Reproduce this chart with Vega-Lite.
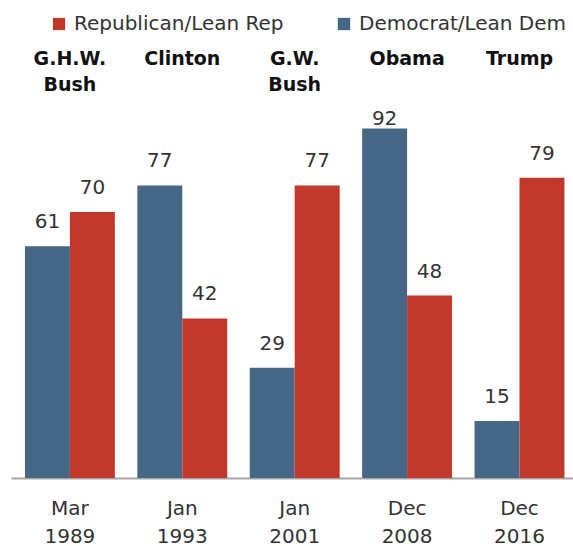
{
  "$schema": "https://vega.github.io/schema/vega-lite/v6.json",
  "autosize": {"type": "none"},
  "padding": {"left": 11, "top": 98, "right": 0, "bottom": 68},
  "width": 562,
  "height": 380,
  "background": "white",
  "config": {"view": {"stroke": null}, "font": "DejaVu Sans"},
  "data": {"values": [
    {"key": "G.H.W. Bush|Mar 1989", "party": "Democrat/Lean Dem", "value": 61},
    {"key": "G.H.W. Bush|Mar 1989", "party": "Republican/Lean Rep", "value": 70},
    {"key": "Clinton|Jan 1993", "party": "Democrat/Lean Dem", "value": 77},
    {"key": "Clinton|Jan 1993", "party": "Republican/Lean Rep", "value": 42},
    {"key": "G.W. Bush|Jan 2001", "party": "Democrat/Lean Dem", "value": 29},
    {"key": "G.W. Bush|Jan 2001", "party": "Republican/Lean Rep", "value": 77},
    {"key": "Obama|Dec 2008", "party": "Democrat/Lean Dem", "value": 92},
    {"key": "Obama|Dec 2008", "party": "Republican/Lean Rep", "value": 48},
    {"key": "Trump|Dec 2016", "party": "Democrat/Lean Dem", "value": 15},
    {"key": "Trump|Dec 2016", "party": "Republican/Lean Rep", "value": 79}
  ]},
  "resolve": {"axis": {"x": "independent"}},
  "layer": [
    {
      "mark": {"type": "bar"},
      "encoding": {
        "x": {
          "field": "key", "type": "nominal", "sort": null,
          "scale": {"paddingInner": 0.2, "paddingOuter": 0.1, "align": 0.62},
          "axis": {
            "orient": "bottom", "title": null, "ticks": false,
            "domain": true, "domainColor": "#a6a6a6", "domainWidth": 2,
            "labelAngle": 0, "labelFontSize": 20, "labelColor": "#333333",
            "labelBaseline": "top", "labelPadding": 20, "labelLineHeight": 28,
            "labelExpr": "split(split(datum.label, '|')[1], ' ')"
          }
        },
        "xOffset": {"field": "party", "type": "nominal", "scale": {"domain": ["Democrat/Lean Dem", "Republican/Lean Rep"], "paddingInner": 0, "paddingOuter": 0}},
        "y": {"field": "value", "type": "quantitative", "scale": {"domain": [0, 100]}, "axis": null},
        "color": {
          "field": "party", "type": "nominal",
          "scale": {"domain": ["Republican/Lean Rep", "Democrat/Lean Dem"], "range": ["#c0392b", "#466886"]},
          "legend": {
            "orient": "none", "legendX": 38, "legendY": -84, "direction": "horizontal",
            "title": null, "symbolType": "square", "symbolSize": 150, "symbolStrokeWidth": 0,
            "labelFontSize": 20, "labelColor": "#333333", "labelOffset": 5, "columnPadding": 50,
            "labelLimit": 400
          }
        }
      }
    },
    {
      "mark": {"type": "text", "fontSize": 20, "color": "#333333", "baseline": "alphabetic", "dy": {"expr": "datum.value > 90 ? -3 : -18"}},
      "encoding": {
        "x": {
          "field": "key", "type": "nominal", "sort": null,
          "axis": {
            "orient": "top", "title": null, "ticks": false, "domain": false,
            "labelAngle": 0, "labelFontSize": 19, "labelFontWeight": "bold", "labelColor": "#111111",
            "labelBaseline": "top", "labelPadding": 49, "labelLineHeight": 26,
            "labelExpr": "split(split(datum.label, '|')[0], ' ')"
          }
        },
        "xOffset": {"field": "party", "type": "nominal", "scale": {"domain": ["Democrat/Lean Dem", "Republican/Lean Rep"]}},
        "y": {"field": "value", "type": "quantitative", "axis": null},
        "text": {"field": "value", "type": "quantitative"}
      }
    }
  ]
}
